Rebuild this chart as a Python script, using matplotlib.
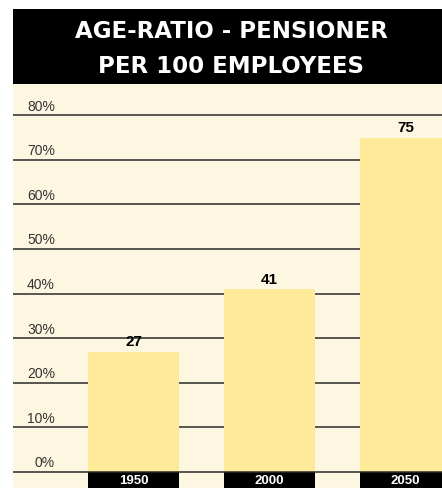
import matplotlib
matplotlib.use("Agg")
import matplotlib.pyplot as plt
from matplotlib.patches import Rectangle
from matplotlib import font_manager

title_lines = ["AGE-RATIO - PENSIONER", "PER 100 EMPLOYEES"]
years = ["1950", "2000", "2050"]
values = [27, 41, 75]
tick_values = [0, 10, 20, 30, 40, 50, 60, 70, 80]
tick_labels = [f"{v}%" for v in tick_values]

names = {f.name for f in font_manager.fontManager.ttflist}
narrow = "Liberation Sans Narrow" if "Liberation Sans Narrow" in names else "Liberation Sans"

W, H = 442, 489
fig = plt.figure(figsize=(W / 100, H / 100), dpi=100)
fig.patch.set_facecolor("white")

def fx(px):
    return px / W

def fy(py):
    return 1 - py / H

# header
fig.patches.append(Rectangle((fx(13), fy(85)), fx(442) - fx(13), fy(10) - fy(85),
                             transform=fig.transFigure, facecolor="black",
                             edgecolor="none", zorder=0))
fig.text(fx(231), fy(32), title_lines[0], color="white", fontsize=16.5,
         fontweight="bold", family="DejaVu Sans", ha="center", va="center")
fig.text(fx(231), fy(67), title_lines[1], color="white", fontsize=16.5,
         fontweight="bold", family="DejaVu Sans", ha="center", va="center")

ax = fig.add_axes([fx(13), 0, fx(442) - fx(13), fy(85)])
cream = "#FDF6E0"
barcol = "#FEEA99"
ax.set_facecolor(cream)

px_per_unit = 136.0
x0px = 133.5
ax.set_xlim((13 - x0px) / px_per_unit, (442 - x0px) / px_per_unit)
px_per_pct = 4.46
ax.set_ylim(-(489 - 473) / px_per_pct, (473 - 85) / px_per_pct)

xs = list(range(len(years)))
bw = 91 / px_per_unit

for v, lab in zip(tick_values, tick_labels):
    ax.axhline(v, color="#2a2a2a", lw=1.1, zorder=1 if v else 3)
    ax.text((55 - x0px) / px_per_unit, v + 0.6, lab, fontsize=10,
            family="Liberation Sans", color="#333333", ha="right", va="bottom",
            zorder=4)

ax.bar(xs, values, width=bw, color=barcol, edgecolor="none", zorder=2)
ymin = ax.get_ylim()[0]
ax.bar(xs, [ymin] * len(xs), width=bw, color="black", edgecolor="none", zorder=2)

for x, v, y in zip(xs, values, years):
    ax.text(x, v + 0.7, str(v), fontsize=11, fontweight="bold",
            family=narrow, color="black", ha="center", va="bottom",
            zorder=4)
    ax.text(x, -2.55, y, fontsize=9.5, fontweight="bold",
            family=narrow, color="white", ha="center", va="baseline",
            zorder=4)

for s in ax.spines.values():
    s.set_visible(False)
ax.set_xticks([])
ax.set_yticks([])

fig.savefig("out.png", dpi=100, facecolor="white")
